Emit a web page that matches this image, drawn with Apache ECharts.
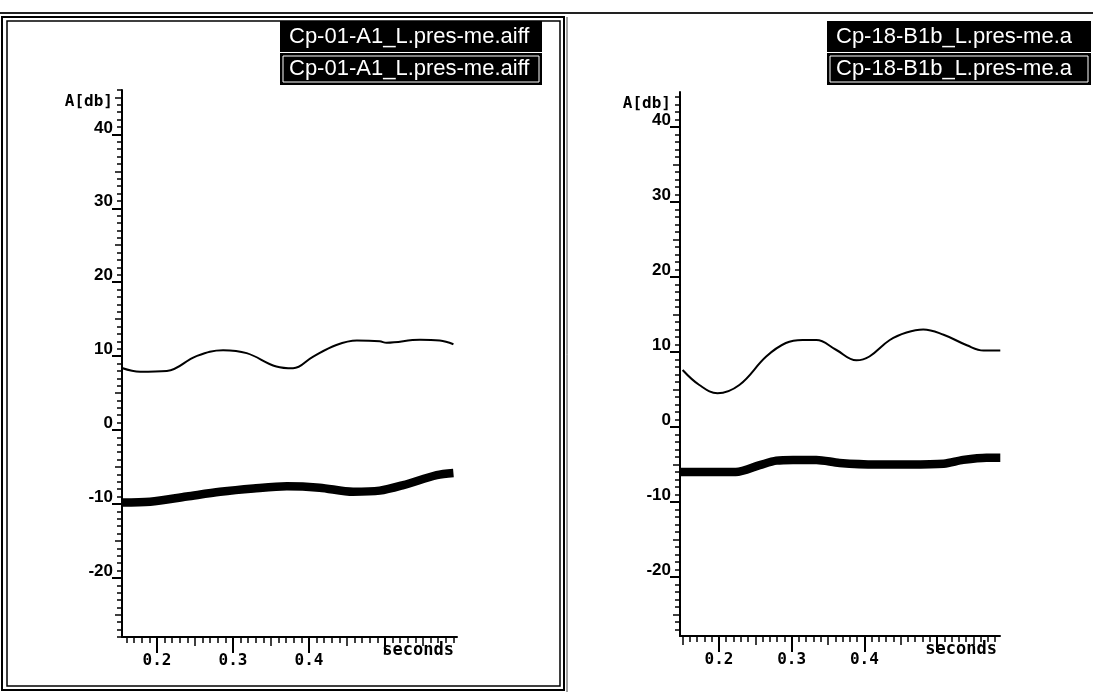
<!DOCTYPE html>
<html>
<head>
<meta charset="utf-8">
<script src="https://cdn.jsdelivr.net/npm/echarts@6/dist/echarts.min.js"></script>
<style>html,body{margin:0;padding:0;background:#fff}#c{width:1093px;height:692px}</style>
</head>
<body>
<div id="c"></div>
<script>
// ---- Data ----
const leftTitle = 'Cp-01-A1_L.pres-me.aiff';
const rightTitle = 'Cp-18-B1b_L.pres-me.a';

const leftThinTime  = [0.154,0.178,0.213,0.252,0.287,0.318,0.357,0.379,0.405,0.436,0.463,0.493,0.502,0.546,0.572,0.590];
const leftThinAmp   = [8.4,7.9,8.0,10.0,10.8,10.4,8.6,8.35,9.9,11.5,12.1,12.0,11.8,12.2,12.1,11.6];
const leftThickTime = [0.154,0.191,0.239,0.283,0.327,0.371,0.414,0.458,0.493,0.524,0.568,0.590];
const leftThickAmp  = [-9.8,-9.7,-9.0,-8.35,-7.9,-7.6,-7.8,-8.35,-8.2,-7.45,-6.1,-5.8];

const rightThinTime  = [0.150,0.173,0.198,0.228,0.265,0.292,0.315,0.334,0.361,0.389,0.407,0.435,0.458,0.481,0.509,0.541,0.564,0.587];
const rightThinAmp   = [7.6,5.6,4.5,5.6,9.4,11.2,11.6,11.6,10.3,8.9,9.4,11.6,12.6,13.0,12.3,10.9,10.2,10.2];
const rightThickTime = [0.147,0.223,0.256,0.279,0.302,0.334,0.366,0.417,0.462,0.509,0.536,0.568,0.587];
const rightThickAmp  = [-6.0,-6.0,-5.1,-4.5,-4.4,-4.4,-4.8,-5.0,-5.0,-4.9,-4.4,-4.1,-4.1];

const yTickLabels = [-20,-10,0,10,20,30,40];
const xTickLabels = [0.2,0.3,0.4];
const xMajorTicks = [0.2,0.3,0.4,0.5];
const yAxisName = 'A[db]';
const xAxisName = 'seconds';

// ---- helpers ----
function range(lo, hi, step) {
  const out = [];
  const s = Math.ceil(lo / step - 1e-9), e = Math.floor(hi / step + 1e-9);
  for (let i = s; i <= e; i++) out.push(+(i * step).toFixed(4));
  return out;
}
const black = '#000';
function pair(t, v) { return t.map((x, i) => [x, v[i]]); }

const panels = [
  {grid:{left:122, top:90, width:335, height:547}, x:[0.154,0.5947], y:[-28.0,46.0],
   thin:pair(leftThinTime,leftThinAmp), thick:pair(leftThickTime,leftThickAmp)},
  {grid:{left:680, top:92, width:320, height:544}, x:[0.1464,0.5866], y:[-27.9,44.7],
   thin:pair(rightThinTime,rightThinAmp), thick:pair(rightThickTime,rightThickAmp)}
];

const grids = [], xAxes = [], yAxes = [], series = [];
panels.forEach((p, gi) => {
  grids.push(p.grid);
  const xBase = {type:'value', gridIndex:gi, min:p.x[0], max:p.x[1], position:'bottom', splitLine:{show:false}};
  const yBase = {type:'value', gridIndex:gi, min:p.y[0], max:p.y[1], position:'left', splitLine:{show:false}};
  const xi = xAxes.length, yi = yAxes.length;
  xAxes.push(Object.assign({}, xBase, {
    axisLine:{show:true, onZero:false, lineStyle:{color:black, width:2}},
    axisTick:{show:true, length:16, lineStyle:{color:black, width:2}, customValues:xMajorTicks},
    axisLabel:{show:true, customValues:xTickLabels, margin:16, color:black,
      fontFamily:'DejaVu Sans Mono', fontWeight:'bold', fontSize:16,
      formatter:v => v.toFixed(1)},
    name:xAxisName, nameLocation:'end', nameGap:-3,
    nameTextStyle:{color:black, fontFamily:'DejaVu Sans Mono', fontWeight:'bold', fontSize:17,
      align:'right', verticalAlign:'top', padding:[5,0,0,0]}
  }));
  xAxes.push(Object.assign({}, xBase, {
    axisLine:{show:false, onZero:false}, axisLabel:{show:false},
    axisTick:{show:true, length:9, lineStyle:{color:black, width:1.5}, customValues:range(p.x[0],p.x[1],0.05)}
  }));
  xAxes.push(Object.assign({}, xBase, {
    axisLine:{show:false, onZero:false}, axisLabel:{show:false},
    axisTick:{show:true, length:6, lineStyle:{color:black, width:1.5}, customValues:range(p.x[0],p.x[1],0.01)}
  }));
  yAxes.push(Object.assign({}, yBase, {
    axisLine:{show:true, onZero:false, lineStyle:{color:black, width:2}},
    axisTick:{show:true, length:10, lineStyle:{color:black, width:2}, customValues:yTickLabels},
    axisLabel:{show:true, customValues:yTickLabels, margin:9, color:black, verticalAlign:'bottom',
      fontFamily:'Liberation Sans', fontWeight:'bold', fontSize:17, padding:[0,0,-2,0]},
    name:yAxisName, nameLocation:'end', nameGap:-4,
    nameTextStyle:{color:black, fontFamily:'DejaVu Sans Mono', fontWeight:'bold', fontSize:16,
      align:'right', verticalAlign:'top', padding:[0,9,0,0]}
  }));
  yAxes.push(Object.assign({}, yBase, {
    axisLine:{show:false, onZero:false}, axisLabel:{show:false},
    axisTick:{show:true, length:7, lineStyle:{color:black, width:1.5}, customValues:range(p.y[0],p.y[1],5)}
  }));
  yAxes.push(Object.assign({}, yBase, {
    axisLine:{show:false, onZero:false}, axisLabel:{show:false},
    axisTick:{show:true, length:5, lineStyle:{color:black, width:1.5}, customValues:range(p.y[0],p.y[1],1)}
  }));
  series.push({type:'line', xAxisIndex:xi, yAxisIndex:yi, data:p.thin, smooth:0.4, symbol:'none',
    lineStyle:{color:black, width:2}, silent:true, animation:false});
  series.push({type:'line', xAxisIndex:xi, yAxisIndex:yi, data:p.thick, smooth:0.3, symbol:'none',
    lineStyle:{color:black, width:8.5, cap:'butt'}, silent:true, animation:false});
});

function legendBox(x, w, text) {
  return [
    {type:'rect', shape:{x:x, y:21, width:w, height:31}, style:{fill:'#000'}},
    {type:'text', x:x+9, y:37, style:{text:text, fill:'#fff', font:'22px "Liberation Sans"', verticalAlign:'middle'}},
    {type:'rect', shape:{x:x, y:53, width:w, height:32}, style:{fill:'#000'}},
    {type:'rect', shape:{x:x+3, y:56, width:w-6, height:26}, style:{fill:'none', stroke:'#fff', lineWidth:1}},
    {type:'text', x:x+9, y:69, style:{text:text, fill:'#fff', font:'22px "Liberation Sans"', verticalAlign:'middle'}}
  ];
}

const graphics = [
  {type:'line', shape:{x1:0, y1:13, x2:1093, y2:13}, style:{stroke:'#222', lineWidth:2}},
  {type:'rect', shape:{x:2, y:17, width:562, height:673}, style:{fill:'none', stroke:'#000', lineWidth:2}},
  {type:'rect', shape:{x:7, y:21, width:553, height:665}, style:{fill:'none', stroke:'#000', lineWidth:1.5}},
  {type:'line', shape:{x1:567, y1:17, x2:567, y2:692}, style:{stroke:'#444', lineWidth:1}}
].concat(legendBox(280, 262, leftTitle)).concat(legendBox(827, 264, rightTitle));

const chart = echarts.init(document.getElementById('c'), null, {renderer:'canvas'});
chart.setOption({
  animation:false,
  backgroundColor:'#fff',
  grid:grids, xAxis:xAxes, yAxis:yAxes, series:series,
  graphic:graphics
});
</script>
</body>
</html>
